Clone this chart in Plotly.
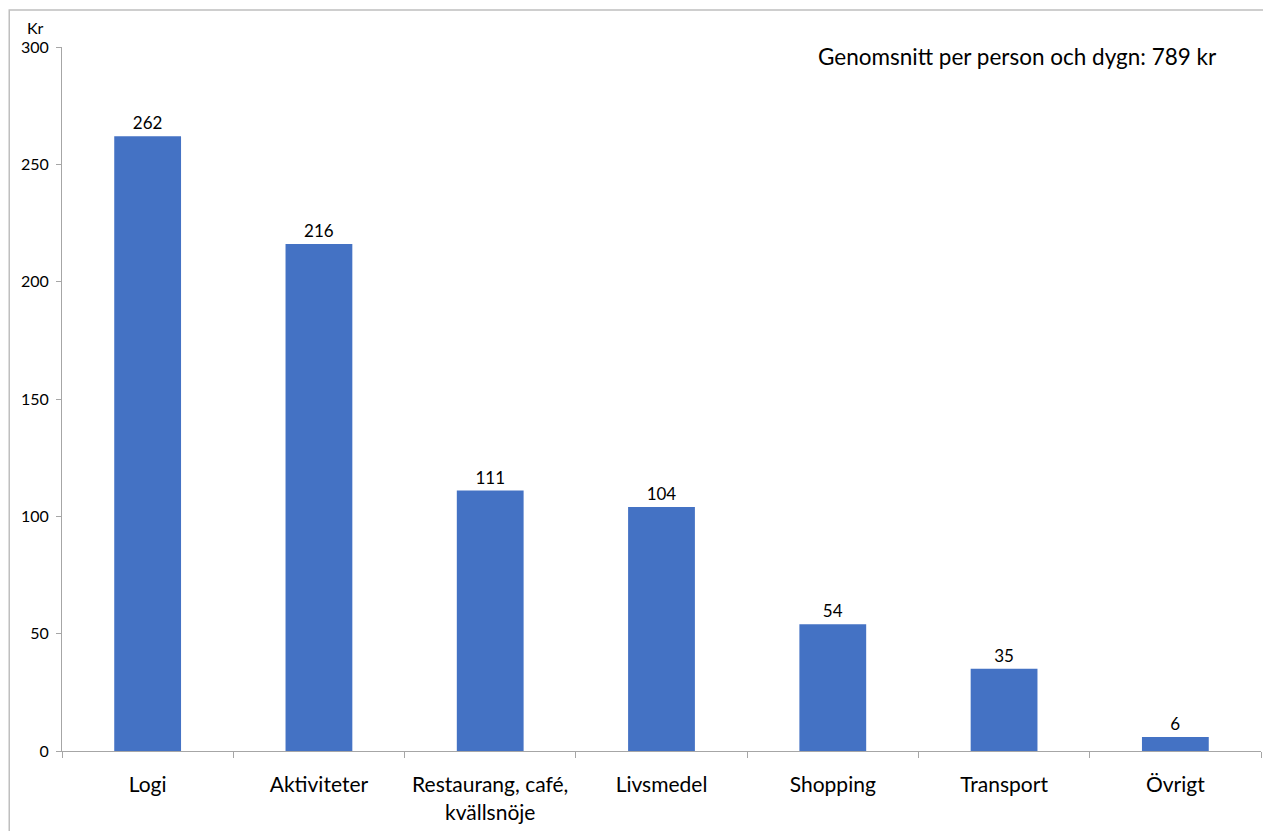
import plotly.graph_objects as go

categories = ['Logi', 'Aktiviteter', 'Restaurang, café,<br>kvällsnöje', 'Livsmedel',
              'Shopping', 'Transport', 'Övrigt']
values = [262, 216, 111, 104, 54, 35, 6]
y_ticks = [0, 50, 100, 150, 200, 250, 300]

FONT = 'Lato, Carlito, Calibri, sans-serif'
AXIS = '#A6A6A6'

fig = go.Figure(go.Bar(
    x=categories,
    y=values,
    marker=dict(color='#4472C4', line=dict(width=0)),
    text=[str(v) for v in values],
    textposition='outside',
    textfont=dict(size=17, color='black', family=FONT),
    cliponaxis=False,
    hoverinfo='x+y',
))

# page body has an 8px margin, so the figure is sized to fit the window
fig.update_layout(
    width=1263, height=823,
    margin=dict(l=54, r=10, t=39, b=80),
    plot_bgcolor='white',
    paper_bgcolor='white',
    bargap=0.61,
    showlegend=False,
    font=dict(family=FONT, color='black'),
    xaxis=dict(
        showline=True, linecolor=AXIS, linewidth=1,
        ticks='outside', tickson='boundaries', ticklen=6, tickcolor=AXIS,
        tickfont=dict(size=21), ticklabelstandoff=15,
        showgrid=False, automargin=False,
    ),
    yaxis=dict(
        range=[0, 300], tickvals=y_ticks,
        showline=True, linecolor=AXIS, linewidth=1,
        ticks='outside', ticklen=5, tickcolor=AXIS,
        tickfont=dict(size=16), ticklabelstandoff=4,
        showgrid=False, zeroline=False, automargin=False,
    ),
    annotations=[
        dict(text='Kr', xref='paper', yref='paper', x=-0.0225, y=1.027,
             xanchor='center', yanchor='middle', showarrow=False, font=dict(size=16)),
        dict(text='Genomsnitt per person och dygn: 789 kr', xref='paper', yref='paper',
             x=0.797, y=0.986, xanchor='center', yanchor='middle', showarrow=False,
             font=dict(size=22.5)),
    ],
    shapes=[
        dict(type='rect', xref='paper', yref='paper',
             x0=-0.044, x1=1.0075, y0=-0.2, y1=1.0526,
             line=dict(color='#BFBFBF', width=1.5), layer='below'),
    ],
)

fig.write_html('out.html')
